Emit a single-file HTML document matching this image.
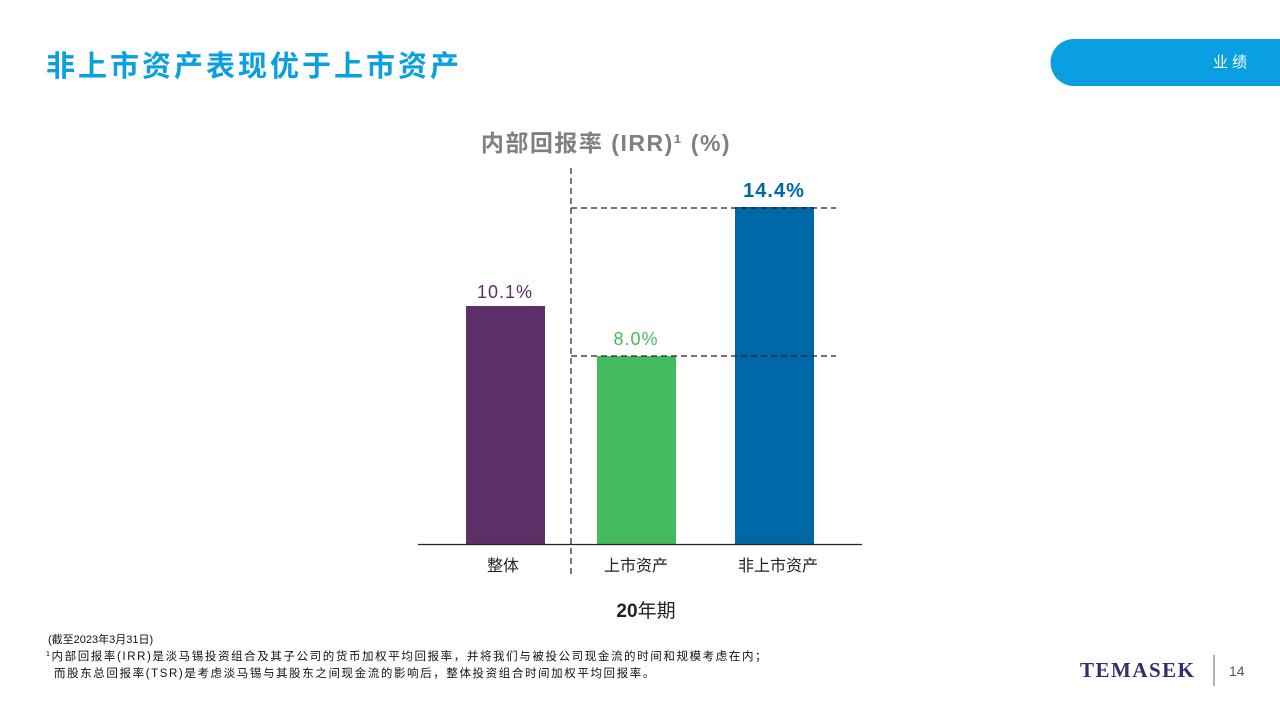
<!DOCTYPE html>
<html><head><meta charset="utf-8"><style>
body{margin:0;width:1280px;height:720px;background:#fff;overflow:hidden;font-family:"Liberation Sans","Noto Sans CJK SC",sans-serif}
</style></head><body>
<svg width="1280" height="720" xmlns="http://www.w3.org/2000/svg" style="position:absolute;left:0;top:0;font-family:'Liberation Sans','Noto Sans CJK SC',sans-serif">
<text x="46" y="76" font-size="29" font-weight="bold" fill="#0a9fe0" letter-spacing="3">非上市资产表现优于上市资产</text>
<path d="M1074,39 H1280 V86 H1074 A23.5,23.5 0 0 1 1074,39 Z" fill="#0a9fe0"/>
<text x="1230" y="67" font-size="15" fill="#fff" text-anchor="middle">业 绩</text>
<text x="606" y="151" font-size="23" font-weight="bold" fill="#808080" text-anchor="middle" letter-spacing="1.5">内部回报率 (IRR)¹ (%)</text>
<rect x="466" y="306" width="79" height="238" fill="#5c2f66"/>
<rect x="597" y="356" width="79" height="188" fill="#44bb5f"/>
<rect x="735" y="207" width="79" height="337" fill="#0068a6"/>
<line x1="418" y1="544.5" x2="862" y2="544.5" stroke="#222" stroke-width="1.3"/>
<line x1="571" y1="168" x2="571" y2="578" stroke="#222" stroke-width="1.2" stroke-dasharray="6,4"/>
<line x1="571" y1="208" x2="836" y2="208" stroke="#222" stroke-width="1.2" stroke-dasharray="6,4"/>
<line x1="571" y1="356" x2="836" y2="356" stroke="#222" stroke-width="1.2" stroke-dasharray="6,4"/>
<text x="505" y="298" font-size="18" fill="#5c2f66" text-anchor="middle" letter-spacing="1">10.1%</text>
<text x="636" y="345" font-size="18" fill="#44bb5f" text-anchor="middle" letter-spacing="1">8.0%</text>
<text x="774" y="197" font-size="20" font-weight="bold" fill="#0068a6" text-anchor="middle" letter-spacing="1">14.4%</text>
<text x="503" y="571" font-size="16" fill="#222" text-anchor="middle">整体</text>
<text x="636" y="571" font-size="16" fill="#222" text-anchor="middle">上市资产</text>
<text x="778" y="571" font-size="16" fill="#222" text-anchor="middle">非上市资产</text>
<text x="646" y="617" font-size="19" fill="#222" text-anchor="middle"><tspan font-weight="bold">20</tspan>年期</text>
<text x="48" y="643" font-size="11" fill="#111">(截至2023年3月31日)</text>
<text x="46" y="660" font-size="11.5" fill="#111" letter-spacing="1.6"><tspan font-size="7" dy="-4">1</tspan><tspan dy="4">内部回报率(IRR)是淡马锡投资组合及其子公司的货币加权平均回报率，并将我们与被投公司现金流的时间和规模考虑在内；</tspan></text>
<text x="54" y="677" font-size="11.5" fill="#111" letter-spacing="1.6">而股东总回报率(TSR)是考虑淡马锡与其股东之间现金流的影响后，整体投资组合时间加权平均回报率。</text>
<text x="1080" y="677" font-size="21" font-weight="bold" fill="#3a2a6a" font-family="Liberation Serif,serif" letter-spacing="1.5">TEMASEK</text>
<line x1="1214" y1="655" x2="1214" y2="686" stroke="#666" stroke-width="1"/>
<text x="1229" y="676" font-size="14" fill="#555">14</text>
</svg>
</body></html>
